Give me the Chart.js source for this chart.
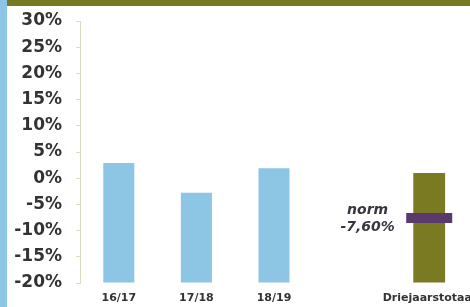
<!DOCTYPE html>
<html lang="nl">
<head>
    <meta charset="UTF-8">
    <title>Norm chart</title>
    <script src="https://cdn.jsdelivr.net/npm/chart.js"></script>
    <style>
        html, body {
            margin: 0;
            padding: 0;
            background: #fff;
            overflow: hidden;
        }
        .wrap {
            position: relative;
            width: 470px;
            height: 307px;
        }
        .stripe-left {
            position: absolute;
            left: 0; top: 0;
            width: 7px; height: 307px;
            background: #8cc5e5;
        }
        .band-top {
            position: absolute;
            left: 7px; top: 0;
            width: 463px; height: 6px;
            background: #787a22;
        }
    </style>
</head>
<body>
<div class="wrap">
    <canvas id="normChart" width="470" height="307"></canvas>
    <div class="stripe-left"></div>
    <div class="band-top"></div>
</div>
<script>
    // Data
    const categories = ['16/17', '17/18', '18/19', '', 'Driejaarstotaal'];
    const yearValues = [2.9, -2.8, 1.9, null, null];
    const totalValues = [null, null, null, null, 1.0];
    const normValues = [null, null, null, null, -7.6];
    const normLabel = ['norm', '-7,60%'];
    const yMin = -20, yMax = 30, yStep = 5;

    const textColor = '#333333';
    const axisColor = '#dcdcc0';

    // Writes the norm label next to the marker
    const normText = {
        id: 'normText',
        afterDatasetsDraw(chart) {
            const x = chart.scales.x.getPixelForValue(3) + 16;
            const y = chart.scales.y.getPixelForValue(normValues[4]);
            const ctx = chart.ctx;
            ctx.save();
            ctx.fillStyle = '#3a3440';
            ctx.font = 'italic bold 14px "DejaVu Sans"';
            ctx.textAlign = 'center';
            ctx.textBaseline = 'middle';
            ctx.fillText(normLabel[0], x, y - 8);
            ctx.fillText(normLabel[1], x, y + 9);
            ctx.restore();
        }
    };

    new Chart(document.getElementById('normChart'), {
        type: 'bar',
        data: {
            labels: categories,
            datasets: [
                {
                    type: 'line',
                    data: normValues,
                    showLine: false,
                    pointStyle: 'line',
                    pointRadius: 23,
                    pointHoverRadius: 23,
                    pointBorderWidth: 10,
                    pointHoverBorderWidth: 10,
                    borderColor: '#5a3a6c',
                    order: 0
                },
                {
                    data: yearValues,
                    base: yMin,
                    backgroundColor: '#8dc5e5',
                    grouped: false,
                    barPercentage: 0.4,
                    categoryPercentage: 1,
                    order: 1
                },
                {
                    data: totalValues,
                    base: yMin,
                    backgroundColor: '#797a21',
                    grouped: false,
                    barPercentage: 0.41,
                    categoryPercentage: 1,
                    order: 1
                }
            ]
        },
        options: {
            responsive: false,
            animation: false,
            layout: {
                autoPadding: false,
                padding: { top: 21, right: 2, bottom: 0, left: 0 }
            },
            plugins: {
                legend: { display: false },
                tooltip: { enabled: false }
            },
            scales: {
                x: {
                    grid: { display: false, drawTicks: false },
                    border: { display: false },
                    ticks: {
                        color: textColor,
                        font: { family: 'DejaVu Sans', size: 11, weight: 'bold' },
                        padding: 9,
                        autoSkip: false,
                        maxRotation: 0
                    },
                    afterFit(s) {
                        s.height = 24;
                        s.paddingLeft = 0;
                        s.paddingRight = 0;
                    }
                },
                y: {
                    min: yMin,
                    max: yMax,
                    grid: {
                        drawOnChartArea: false,
                        drawTicks: true,
                        tickLength: 4,
                        color: axisColor
                    },
                    border: { display: true, color: axisColor, width: 1 },
                    ticks: {
                        stepSize: yStep,
                        autoSkip: false,
                        color: textColor,
                        font: { family: 'DejaVu Sans', size: 17, weight: 'bold' },
                        padding: 14,
                        callback: v => v + '%'
                    },
                    afterFit(s) {
                        s.width = 80;
                        s.paddingTop = 0;
                        s.paddingBottom = 0;
                    }
                }
            }
        },
        plugins: [normText]
    });
</script>
</body>
</html>
